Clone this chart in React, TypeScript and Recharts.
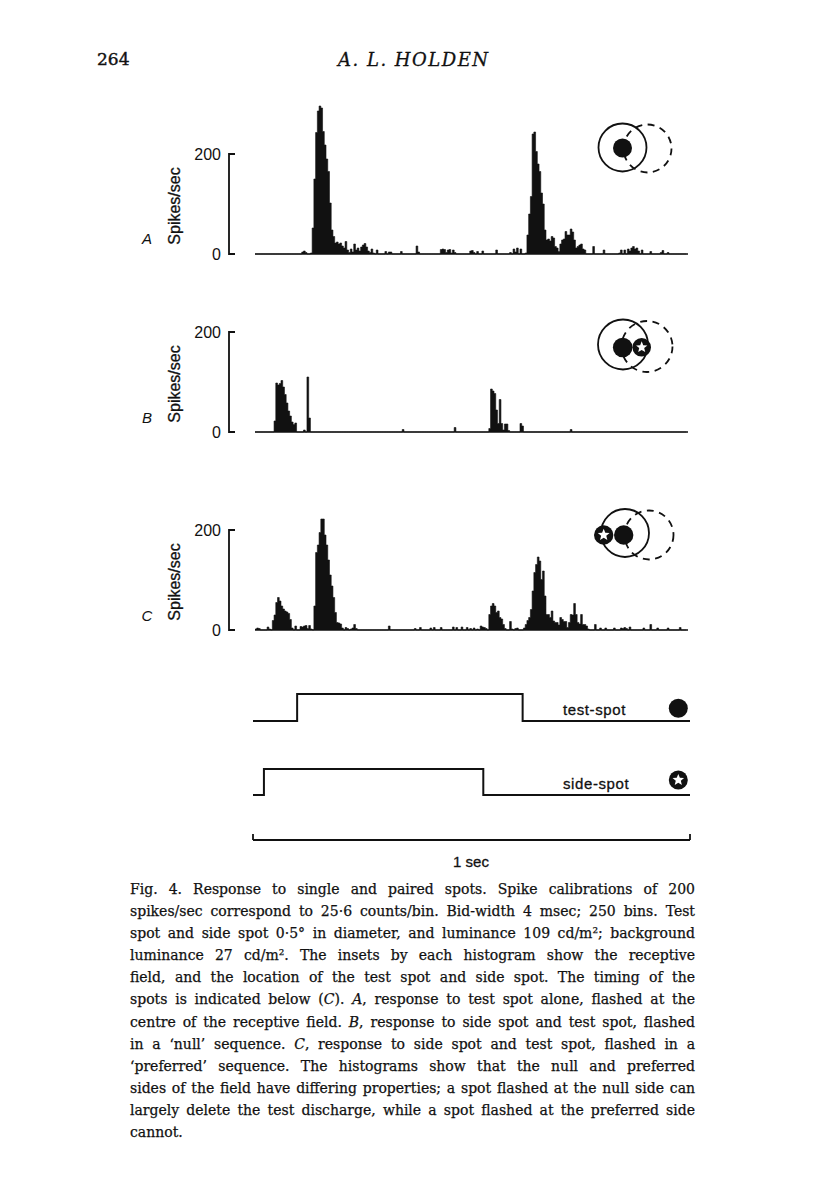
import { AreaChart, Area, XAxis, YAxis, ReferenceLine, LineChart, Line } from 'recharts'

// spikes/sec in each 4 msec bin, 250 bins = 1 sec
const binsA = [
  0, 0, 0, 0, 0, 0, 0, 0, 0, 0,
  0, 0, 0, 0, 0, 0, 0, 0, 0, 0,
  0, 0, 0, 0, 0, 0, 0, 4, 6, 3,
  0, 0, 2, 52, 150, 243, 286, 296, 292, 245,
  218, 190, 165, 102, 48, 35, 22, 24, 20, 22,
  16, 12, 25, 8, 3, 10, 4, 20, 8, 12,
  6, 14, 18, 21, 14, 6, 3, 10, 2, 0,
  8, 0, 0, 0, 0, 5, 0, 4, 4, 0,
  0, 0, 0, 0, 5, 0, 0, 0, 0, 0,
  0, 0, 0, 16, 4, 0, 0, 0, 0, 0,
  0, 0, 0, 0, 0, 0, 0, 9, 10, 9,
  3, 8, 9, 2, 8, 3, 0, 0, 0, 0,
  0, 0, 0, 0, 6, 7, 3, 0, 5, 0,
  0, 6, 0, 0, 0, 0, 0, 0, 0, 8,
  0, 0, 0, 0, 0, 0, 0, 3, 0, 10,
  4, 12, 0, 10, 0, 0, 2, 38, 80, 115,
  240, 244, 205, 180, 165, 122, 100, 48, 28, 30,
  26, 35, 32, 15, 12, 5, 20, 28, 30, 45,
  38, 38, 50, 44, 28, 12, 15, 18, 20, 10,
  8, 0, 0, 0, 0, 15, 0, 0, 0, 0,
  0, 8, 0, 0, 0, 0, 0, 0, 0, 0,
  2, 8, 0, 8, 0, 10, 6, 12, 15, 10,
  12, 6, 0, 8, 0, 0, 0, 0, 5, 0,
  0, 0, 0, 0, 3, 7, 0, 0, 3, 0,
  0, 0, 0, 0, 0, 0, 0, 0, 0, 0,
]

const binsB = [
  0, 0, 0, 0, 0, 0, 0, 0, 0, 0,
  0, 22, 98, 94, 97, 103, 90, 75, 58, 42,
  32, 20, 15, 18, 0, 0, 0, 0, 4, 0,
  110, 28, 0, 0, 0, 0, 0, 0, 0, 0,
  0, 0, 0, 0, 0, 0, 0, 0, 0, 0,
  0, 0, 0, 0, 0, 0, 0, 0, 0, 0,
  0, 0, 0, 0, 0, 0, 0, 0, 0, 0,
  0, 0, 0, 0, 0, 0, 0, 0, 0, 0,
  0, 0, 0, 0, 0, 5, 0, 0, 0, 0,
  0, 0, 0, 0, 0, 0, 0, 0, 0, 0,
  0, 0, 0, 0, 0, 0, 0, 0, 0, 0,
  0, 0, 0, 0, 0, 9, 0, 0, 0, 0,
  0, 0, 0, 0, 0, 0, 0, 0, 0, 0,
  0, 0, 0, 0, 0, 7, 86, 82, 77, 44,
  17, 65, 17, 4, 16, 16, 3, 0, 0, 0,
  0, 0, 0, 17, 12, 0, 0, 0, 0, 0,
  0, 0, 0, 0, 0, 0, 0, 0, 0, 0,
  0, 0, 0, 0, 0, 0, 0, 0, 0, 0,
  0, 0, 5, 0, 0, 0, 0, 0, 0, 0,
  0, 0, 0, 0, 0, 0, 0, 0, 0, 0,
  0, 0, 0, 0, 0, 0, 0, 0, 0, 0,
  0, 0, 0, 0, 0, 0, 0, 0, 0, 0,
  0, 0, 0, 0, 0, 0, 0, 0, 0, 0,
  0, 0, 0, 0, 0, 0, 0, 0, 0, 0,
  0, 0, 0, 0, 0, 0, 0, 0, 0, 0,
]

const binsC = [
  2, 4, 3, 0, 0, 0, 0, 6, 2, 0,
  19, 30, 55, 65, 58, 48, 42, 38, 36, 33,
  21, 4, 0, 8, 0, 0, 7, 6, 8, 9,
  3, 9, 2, 0, 48, 155, 170, 195, 222, 222,
  190, 170, 140, 110, 88, 65, 35, 15, 14, 12,
  4, 0, 5, 3, 0, 2, 4, 11, 3, 0,
  0, 0, 0, 0, 0, 0, 0, 0, 0, 0,
  0, 0, 0, 0, 0, 0, 0, 8, 0, 0,
  0, 0, 0, 0, 0, 0, 0, 0, 0, 0,
  0, 0, 3, 0, 0, 5, 0, 0, 0, 0,
  0, 4, 0, 5, 0, 0, 0, 5, 0, 0,
  0, 0, 0, 0, 6, 0, 5, 0, 0, 6,
  0, 0, 5, 0, 3, 0, 4, 0, 2, 0,
  8, 6, 5, 3, 0, 31, 48, 53, 48, 35,
  38, 25, 22, 11, 3, 0, 0, 17, 2, 0,
  3, 4, 0, 0, 0, 4, 11, 19, 25, 41,
  78, 115, 131, 146, 138, 101, 118, 68, 31, 31,
  25, 38, 18, 15, 15, 10, 25, 21, 17, 17,
  5, 15, 31, 30, 53, 31, 15, 12, 31, 11,
  11, 8, 2, 0, 0, 0, 11, 0, 0, 4,
  0, 0, 4, 0, 0, 0, 0, 4, 0, 0,
  0, 4, 3, 5, 3, 0, 6, 0, 0, 0,
  0, 0, 0, 0, 4, 0, 0, 0, 11, 0,
  0, 0, 4, 0, 0, 0, 0, 0, 4, 0,
  0, 0, 0, 0, 0, 5, 0, 0, 0, 0,
]

const calTicks = [0, 200]

// stimulus timing, msec
const testSpotMs = [0, 101, 617, 1000]
const testSpotOn = [0, 1, 0, 0]
const sideSpotMs = [0, 25, 527, 1000]
const sideSpotOn = [0, 1, 0, 0]
const scaleBarMs = [0, 1000]

const captionLines = [
  'Fig. 4. Response to single and paired spots. Spike calibrations of 200',
  'spikes/sec correspond to 25·6 counts/bin. Bid-width 4 msec; 250 bins. Test',
  'spot and side spot 0·5° in diameter, and luminance 109 cd/m²; background',
  'luminance 27 cd/m². The insets by each histogram show the receptive',
  'field, and the location of the test spot and side spot. The timing of the',
  'spots is indicated below (_C_). _A_, response to test spot alone, flashed at the',
  'centre of the receptive field. _B_, response to side spot and test spot, flashed',
  'in a ‘null’ sequence. _C_, response to side spot and test spot, flashed in a',
  '‘preferred’ sequence. The histograms show that the null and preferred',
  'sides of the field have differing properties; a spot flashed at the null side can',
  'largely delete the test discharge, while a spot flashed at the preferred side',
  'cannot.',
]

const ink = '#111'
const sans = '"Liberation Sans", Arial, sans-serif'
const serif = '"DejaVu Serif", serif'

function CalBracket(p: any) {
  const x = p.x1 - 26
  const top = Math.min(p.y1, p.y2)
  const bottom = Math.max(p.y1, p.y2)
  return (
    <path d={`M${x + 6},${top}H${x}V${bottom}H${x + 6}`} fill="none" stroke={ink} strokeWidth={1.8} />
  )
}

function Histogram({ values, top }: { values: number[]; top: number }) {
  const data = values.map((rate, bin) => ({ bin, rate }))
  return (
    <div style={{ position: 'absolute', left: 150, top }}>
      <AreaChart width={545} height={175} data={data} margin={{ top: 10, right: 7, bottom: 15, left: 0 }}>
        <XAxis dataKey="bin" type="number" domain={[0, 250]} hide />
        <YAxis
          domain={[0, 300]}
          ticks={calTicks}
          interval={0}
          width={105}
          axisLine={false}
          tickLine={false}
          tickMargin={28}
          tick={{ fill: ink, fontSize: 16, fontFamily: sans }}
        />
        <ReferenceLine y={0} stroke={ink} strokeWidth={1.6} />
        <ReferenceLine segment={[{ x: 0, y: 0 }, { x: 0, y: 200 }]} shape={CalBracket} />
        <Area
          type="stepAfter"
          dataKey="rate"
          fill={ink}
          fillOpacity={1}
          stroke={ink}
          strokeWidth={0.6}
          isAnimationActive={false}
        />
      </AreaChart>
    </div>
  )
}

function Trace({ ms, on, top, plotHeight }: { ms: number[]; on: number[]; top: number; plotHeight: number }) {
  const data = ms.map((t, i) => ({ t, on: on[i] }))
  return (
    <div style={{ position: 'absolute', left: 150, top }}>
      <LineChart width={545} height={plotHeight + 20} data={data} margin={{ top: 10, right: 5, bottom: 10, left: 103 }}>
        <XAxis dataKey="t" type="number" domain={[0, 1000]} hide />
        <YAxis domain={[0, 1]} hide />
        <Line type="stepAfter" dataKey="on" stroke={ink} strokeWidth={2} dot={false} isAnimationActive={false} />
      </LineChart>
    </div>
  )
}

function Star({ cx, cy, r }: { cx: number; cy: number; r: number }) {
  const pts: string[] = []
  for (let k = 0; k < 10; k++) {
    const rad = k % 2 === 0 ? r * 0.64 : r * 0.28
    const a = -Math.PI / 2 + (k * Math.PI) / 5
    pts.push(`${(cx + rad * Math.cos(a)).toFixed(2)},${(cy + rad * Math.sin(a)).toFixed(2)}`)
  }
  return (
    <g>
      <circle cx={cx} cy={cy} r={r} fill={ink} />
      <polygon points={pts.join(' ')} fill="#fff" />
    </g>
  )
}

function Field({ cx, cy, r, nx, ny, nr }: { cx: number; cy: number; r: number; nx: number; ny: number; nr: number }) {
  return (
    <g fill="none" stroke={ink} strokeWidth={1.8}>
      <circle cx={cx} cy={cy} r={r} />
      <circle cx={nx} cy={ny} r={nr} strokeDasharray="7 5.5" />
    </g>
  )
}

function CaptionLine({ text, last }: { text: string; last: boolean }) {
  const parts = text.split('_')
  return (
    <div
      style={{
        whiteSpace: 'nowrap',
        textAlign: last ? 'left' : 'justify',
        textAlignLast: last ? 'left' : 'justify',
        height: 22.1,
      }}
    >
      {parts.map((s, i) => (i % 2 === 1 ? <i key={i}>{s}</i> : <span key={i}>{s}</span>))}
    </div>
  )
}

const label = (extra: React.CSSProperties): React.CSSProperties => ({
  position: 'absolute',
  fontFamily: sans,
  color: ink,
  lineHeight: 1,
  whiteSpace: 'nowrap',
  ...extra,
})

export default function App() {
  const panels = [
    { key: 'A', values: binsA, top: 94, letterY: 238, unitY: 206 },
    { key: 'B', values: binsB, top: 272, letterY: 417, unitY: 384 },
    { key: 'C', values: binsC, top: 470, letterY: 615, unitY: 582 },
  ]
  return (
    <div style={{ position: 'absolute', left: 0, top: 0, width: 816, height: 1199, background: '#fff', overflow: 'hidden' }}>
      <div style={{ position: 'absolute', left: 97, top: 51, fontFamily: serif, fontSize: 17, color: ink, lineHeight: 1, WebkitTextStroke: '0.4px #111' }}>264</div>
      <div
        style={{
          position: 'absolute',
          left: 338,
          top: 51,
          fontFamily: serif,
          fontStyle: 'italic',
          fontSize: 18,
          letterSpacing: 1.5,
          color: ink,
          lineHeight: 1,
          whiteSpace: 'nowrap',
          WebkitTextStroke: '0.3px #111',
        }}
      >
        A. L. HOLDEN
      </div>

      {panels.map((p) => (
        <Histogram key={p.key} values={p.values} top={p.top} />
      ))}
      {panels.map((p) => (
        <div key={'u' + p.key}>
          <div style={label({ left: 175, top: p.unitY, fontSize: 16, transform: 'translate(-50%, -50%) rotate(-90deg)', WebkitTextStroke: '0.3px #111' })}>
            Spikes/sec
          </div>
          <div style={label({ left: 147, top: p.letterY, fontSize: 15, fontStyle: 'italic', transform: 'translate(-50%, -50%)' })}>{p.key}</div>
        </div>
      ))}

      <Trace ms={testSpotMs} on={testSpotOn} top={684} plotHeight={27} />
      <Trace ms={sideSpotMs} on={sideSpotOn} top={759} plotHeight={26} />

      <div style={{ position: 'absolute', left: 150, top: 820 }}>
        <LineChart width={545} height={30} data={scaleBarMs.map((t) => ({ t }))} margin={{ top: 0, right: 5, bottom: 0, left: 103 }}>
          <XAxis
            dataKey="t"
            type="number"
            orientation="top"
            domain={[0, 1000]}
            allowDataOverflow
            ticks={scaleBarMs}
            interval={0}
            height={20}
            tickFormatter={() => ''}
            tickSize={6}
            axisLine={{ stroke: ink, strokeWidth: 1.8 }}
            tickLine={{ stroke: ink, strokeWidth: 1.8 }}
          />
          <YAxis hide />
        </LineChart>
      </div>

      <div style={label({ left: 563, top: 709, fontSize: 15, letterSpacing: 0.6, transform: 'translateY(-50%)', WebkitTextStroke: '0.3px #111' })}>test-spot</div>
      <div style={label({ left: 563, top: 783, fontSize: 15, letterSpacing: 0.6, transform: 'translateY(-50%)', WebkitTextStroke: '0.3px #111' })}>side-spot</div>
      <div style={label({ left: 471, top: 861, fontSize: 15, transform: 'translate(-50%, -50%)', WebkitTextStroke: '0.3px #111' })}>1 sec</div>

      <svg width={816} height={1199} style={{ position: 'absolute', left: 0, top: 0, pointerEvents: 'none' }}>
        <Field cx={622.5} cy={147.5} r={24} nx={647.5} ny={148.5} nr={24} />
        <circle cx={622.5} cy={148} r={9.5} fill={ink} />

        <Field cx={623} cy={344.5} r={25} nx={647} ny={346.5} nr={25.5} />
        <circle cx={622.7} cy={347.5} r={9.8} fill={ink} />
        <Star cx={641.7} cy={347.3} r={9.3} />

        <Field cx={625} cy={533} r={24} nx={649} ny={535} nr={24.5} />
        <circle cx={623.7} cy={535} r={9.7} fill={ink} />
        <Star cx={603.7} cy={535} r={9.7} />

        <circle cx={678.3} cy={708.3} r={9.5} fill={ink} />
        <Star cx={678.3} cy={780} r={9.5} />
      </svg>

      <div
        style={{
          position: 'absolute',
          left: 130,
          top: 878,
          width: 565,
          fontFamily: serif,
          fontSize: 14,
          lineHeight: '22.1px',
          color: ink,
          WebkitTextStroke: '0.25px #111',
        }}
      >
        {captionLines.map((t, i) => (
          <CaptionLine key={i} text={t} last={i === captionLines.length - 1} />
        ))}
      </div>
    </div>
  )
}
